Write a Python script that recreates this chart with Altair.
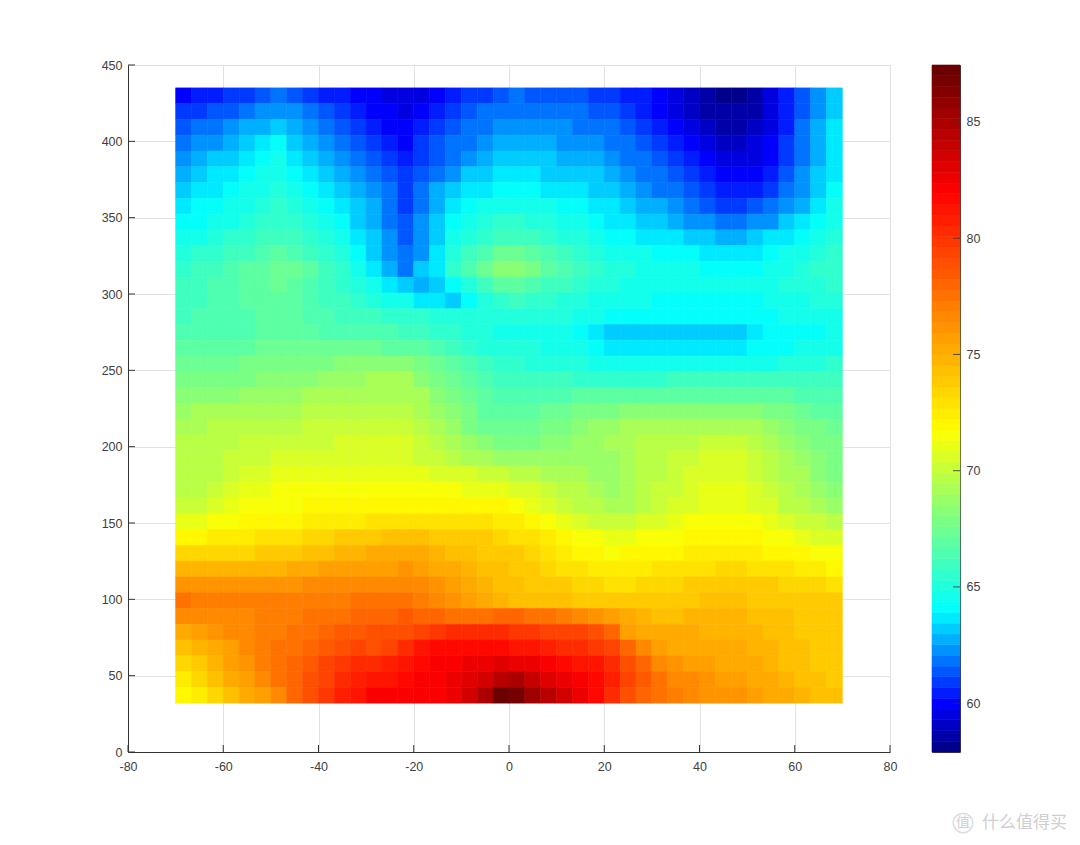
import altair as alt
import numpy as np
import pandas as pd

x_step = 140.0 / 42
x_left = -70.0
y_top = 435.0
y_step = 403.0 / 39

z_rows = [
    [60.2,60.3,60.5,60.7,60.9,61.2,61.6,61.2,60.9,60.6,60.3,60,59.8,59.6,59.5,59.7,60,60.3,60.7,61.1,61.5,61.6,61.5,61.4,61.3,61.2,61.1,60.9,60.6,60.3,59.9,59.5,59.1,58.7,58.3,58.3,58.6,59.5,60.3,61.2,62.3,63.4],
    [60.7,60.9,61.2,61.5,61.8,62.1,62.5,62.1,61.6,61.2,60.8,60.5,60.2,59.9,59.7,60,60.4,60.8,61.2,61.6,61.9,62,61.9,61.8,61.7,61.6,61.4,61.2,60.9,60.5,60.1,59.7,59.2,58.8,58.4,58.4,58.7,59.5,60.4,61.5,62.5,63.4],
    [61.3,61.6,61.9,62.2,62.6,62.9,63.3,62.8,62.2,61.7,61.3,60.9,60.6,60.2,60,60.4,60.8,61.2,61.6,62,62.3,62.4,62.3,62.2,62.1,62,61.8,61.6,61.2,60.8,60.4,60,59.6,59.1,58.7,58.7,59,59.7,60.6,61.7,62.6,63.5],
    [61.9,62.2,62.5,62.9,63.2,63.6,64,63.4,62.8,62.2,61.7,61.2,60.9,60.5,60.2,60.7,61.2,61.6,62,62.4,62.8,62.8,62.7,62.6,62.5,62.3,62.2,62,61.6,61.2,60.8,60.4,60,59.5,59,59,59.3,59.9,60.8,61.8,62.7,63.6],
    [62.4,62.7,63,63.4,63.7,64.1,64.4,63.9,63.3,62.7,62.2,61.7,61.2,60.8,60.6,61,61.5,62,62.5,62.9,63.3,63.3,63.2,63,62.9,62.8,62.6,62.4,62,61.6,61.2,60.8,60.3,59.9,59.4,59.4,59.7,60.2,61,62,62.9,63.7],
    [62.9,63.2,63.5,63.8,64.1,64.4,64.7,64.3,63.8,63.2,62.7,62.2,61.7,61.2,60.8,61.3,61.9,62.5,63,63.4,63.7,63.7,63.6,63.4,63.3,63.1,63,62.8,62.4,62,61.6,61.2,60.7,60.3,59.8,59.8,60.1,60.6,61.3,62.2,63.1,63.8],
    [63.3,63.6,63.9,64.2,64.4,64.7,65,64.7,64.3,63.7,63.2,62.7,62.2,61.6,61,61.7,62.6,63.3,63.7,63.9,64.1,64.1,64,63.8,63.7,63.5,63.3,63.1,62.8,62.4,62,61.6,61.2,60.8,60.3,60.3,60.6,61,61.7,62.4,63.2,64],
    [63.7,64,64.2,64.5,64.7,65,65.3,65.1,64.7,64.2,63.7,63.1,62.6,61.8,61.1,61.9,62.8,63.8,64.2,64.5,64.8,64.8,64.6,64.4,64.2,64,63.8,63.5,63.2,62.9,62.6,62.2,61.9,61.5,61,61,61.3,61.7,62.2,62.9,63.6,64.4],
    [64.1,64.3,64.6,64.8,65.1,65.4,65.7,65.5,65.1,64.5,64,63.4,62.8,62,61.3,62.2,63.4,64.2,64.7,65,65.3,65.3,65.1,64.9,64.7,64.4,64.2,63.9,63.7,63.4,63.1,62.8,62.5,62.2,61.9,61.9,62.2,62.5,63,63.5,64.1,64.8],
    [64.6,64.8,65.1,65.4,65.6,65.9,66.2,66,65.6,65,64.4,63.7,63,62.3,61.5,62.3,63.4,64.4,65.1,65.7,66.2,66.2,65.9,65.6,65.2,64.9,64.5,64.2,64.1,63.9,63.7,63.5,63.3,63.1,62.9,62.9,63.2,63.5,63.8,64.2,64.6,65.1],
    [65,65.3,65.6,65.9,66.2,66.5,66.8,66.6,66.2,65.6,65,64.3,63.4,62.5,61.7,62.4,63.6,64.9,65.8,66.6,67.3,67.3,66.8,66.3,65.8,65.3,65,64.6,64.5,64.4,64.2,64.1,64,63.8,63.7,63.7,63.9,64.2,64.5,64.8,65.1,65.4],
    [65.5,65.8,66.1,66.4,66.7,67,67.3,67.2,66.7,66.1,65.5,64.6,63.8,62.8,61.9,63,63.9,65.3,66.4,67.5,68.4,68.4,67.7,67,66.4,65.8,65.4,65,64.9,64.8,64.6,64.5,64.4,64.2,64.1,64.1,64.3,64.6,64.8,65.1,65.3,65.6],
    [65.8,66,66.3,66.5,66.8,67,67.2,67,66.6,66.2,65.7,65.2,64.6,63.8,63,62.7,63,64,65,66,66.9,66.9,66.6,66.2,65.9,65.6,65.2,64.9,64.8,64.7,64.6,64.5,64.5,64.4,64.4,64.4,64.5,64.7,64.9,65,65.1,65.3],
    [66,66.2,66.3,66.5,66.7,66.9,67,66.8,66.5,66.2,65.8,65.5,65.2,64.8,64.4,63.9,63.5,63.4,64.3,65.2,65.7,65.8,65.6,65.4,65.2,65,64.8,64.6,64.5,64.4,64.3,64.2,64.2,64.1,64,64.1,64.2,64.4,64.6,64.8,64.9,65],
    [66.2,66.3,66.4,66.5,66.6,66.8,66.9,66.8,66.6,66.4,66.2,66,65.8,65.6,65.5,65.3,65.1,65,65,65.1,65.2,65.2,65.1,65,64.9,64.7,64.5,64.3,64.2,64.1,64.1,64.1,64,64,64,64,64.1,64.2,64.4,64.6,64.7,64.8],
    [66.5,66.5,66.6,66.6,66.6,66.7,66.7,66.7,66.7,66.6,66.5,66.5,66.4,66.3,66.2,66,65.7,65.4,65.2,65,64.8,64.8,64.6,64.5,64.4,64.2,63.8,63.4,63.3,63.3,63.3,63.3,63.3,63.3,63.3,63.3,63.7,64,64.1,64.2,64.3,64.4],
    [67,67,67,67.1,67.1,67.2,67.2,67.2,67.2,67.2,67.2,67.2,67.2,67.1,67,66.7,66.3,65.9,65.6,65.2,65,65,64.9,64.8,64.6,64.5,64.2,63.9,63.9,63.9,63.9,63.9,63.9,63.9,63.9,63.9,64,64.2,64.3,64.4,64.5,64.6],
    [67.4,67.4,67.5,67.5,67.6,67.6,67.7,67.8,67.9,68,68.1,68.2,68.2,68.3,68.2,67.8,67.3,66.8,66.3,65.8,65.4,65.4,65.2,65.1,65,64.9,64.8,64.7,64.7,64.6,64.6,64.6,64.6,64.6,64.6,64.6,64.7,64.8,65,65.1,65.2,65.4],
    [67.9,67.9,68,68,68,68.1,68.1,68.3,68.5,68.6,68.8,68.9,69,69,69,68.5,67.9,67.3,66.8,66.3,65.9,65.9,65.9,65.8,65.8,65.7,65.7,65.7,65.7,65.7,65.7,65.8,65.8,65.8,65.8,65.8,65.8,65.9,65.9,65.9,66,66],
    [68.4,68.4,68.5,68.5,68.6,68.6,68.7,68.8,69,69.1,69.2,69.3,69.4,69.4,69.4,69,68.4,67.8,67.2,66.7,66.3,66.3,66.4,66.5,66.6,66.7,66.8,67,67,67,67,67,67,67,67,67,66.9,66.8,66.7,66.6,66.5,66.4],
    [68.9,69,69,69.1,69.1,69.2,69.3,69.4,69.5,69.6,69.7,69.8,69.9,69.9,69.9,69.4,68.8,68.2,67.6,67.1,66.8,66.8,67,67.2,67.4,67.6,67.8,68,68.1,68.2,68.3,68.4,68.5,68.5,68.5,68.5,68.3,68,67.7,67.4,67.1,66.8],
    [69.4,69.4,69.5,69.6,69.7,69.7,69.8,69.9,70,70.1,70.1,70.2,70.2,70.3,70.2,69.8,69.2,68.6,68,67.5,67.3,67.3,67.5,67.7,68,68.3,68.6,68.8,69,69.1,69.2,69.3,69.4,69.4,69.4,69.4,69.2,68.8,68.4,68,67.6,67.2],
    [69.7,69.7,69.8,69.9,70,70.1,70.2,70.2,70.3,70.3,70.4,70.4,70.4,70.4,70.4,70,69.6,69.2,68.8,68.3,68,68,68,68.1,68.3,68.6,68.8,69,69.4,69.6,69.7,69.8,69.9,70,70,70.1,69.8,69.4,68.9,68.5,68,67.6],
    [69.8,69.8,69.9,70,70.2,70.3,70.5,70.5,70.5,70.6,70.6,70.6,70.6,70.6,70.6,70.3,70,69.7,69.4,69.1,68.8,68.7,68.6,68.6,68.6,68.7,68.8,68.9,69.3,69.6,69.9,70.1,70.3,70.4,70.4,70.4,70.1,69.7,69.2,68.8,68.4,67.9],
    [69.8,69.8,69.9,70.2,70.5,70.7,70.9,70.9,70.9,71,71,71,71,71,71,70.9,70.7,70.5,70.4,70.2,70,69.8,69.6,69.4,69.2,69,68.9,68.8,69.1,69.5,69.9,70.1,70.4,70.6,70.6,70.6,70.3,69.8,69.4,69,68.5,68],
    [69.9,69.9,70.1,70.6,71,71.2,71.3,71.3,71.4,71.4,71.4,71.4,71.4,71.4,71.4,71.4,71.3,71.3,71.2,71.1,71,70.7,70.4,70.1,69.8,69.5,69.2,68.9,69.2,69.6,70,70.3,70.6,70.9,70.9,71,70.6,70.2,69.7,69.3,68.8,68.4],
    [70,70.2,70.5,71,71.3,71.5,71.7,71.7,71.8,71.8,71.9,71.9,72,72,72,72,72,72,72,72,71.9,71.6,71.2,70.8,70.3,69.9,69.5,69.1,69.4,69.8,70.2,70.5,70.8,71.1,71.1,71.2,70.8,70.4,69.9,69.5,69.1,68.8],
    [70.9,71.1,71.3,71.6,71.8,72,72.1,72.2,72.3,72.4,72.5,72.6,72.7,72.8,72.9,72.9,72.9,72.8,72.8,72.7,72.6,72.3,71.9,71.5,71.1,70.7,70.3,70,70.2,70.5,70.8,71,71.3,71.6,71.6,71.7,71.3,71,70.6,70.3,70,69.6],
    [72,72.1,72.3,72.4,72.6,72.7,72.9,73.1,73.3,73.5,73.7,73.9,74,74.1,74.2,74.1,74,73.9,73.7,73.6,73.4,73.1,72.7,72.3,71.9,71.6,71.3,71,71.2,71.4,71.6,71.7,71.9,72,72,72.1,71.9,71.7,71.3,71,70.8,70.6],
    [73.2,73.2,73.3,73.4,73.5,73.6,73.7,74,74.2,74.5,74.7,74.9,75,75.1,75.2,75,74.8,74.5,74.3,74,73.8,73.6,73.2,72.9,72.5,72.2,71.9,71.7,71.8,72,72.1,72.2,72.3,72.4,72.5,72.6,72.4,72.2,72,71.8,71.6,71.4],
    [74.8,74.8,74.8,74.8,74.8,74.9,74.9,75.1,75.3,75.5,75.6,75.7,75.8,75.9,76,75.7,75.4,75,74.7,74.4,74.1,73.9,73.6,73.3,73,72.7,72.5,72.3,72.5,72.6,72.8,72.9,73,73.1,73.2,73.2,73.1,72.9,72.7,72.5,72.3,72.1],
    [76.3,76.3,76.2,76.2,76.2,76.2,76.2,76.3,76.4,76.5,76.6,76.7,76.7,76.8,76.8,76.4,76,75.6,75.2,74.8,74.4,74.2,74,73.8,73.6,73.4,73.2,73,73.1,73.2,73.3,73.4,73.6,73.7,73.7,73.8,73.7,73.6,73.4,73.3,73.2,73],
    [77.3,77.2,77.1,77.1,77,77,77,77,77.1,77.2,77.2,77.3,77.4,77.5,77.6,77.1,76.6,76.1,75.6,75.1,74.7,74.5,74.3,74.2,74.1,74,73.8,73.7,73.8,73.8,73.9,74,74,74.1,74.1,74.1,74,73.9,73.8,73.7,73.6,73.6],
    [76.4,76.5,76.6,76.7,76.8,77,77.1,77.2,77.3,77.5,77.7,77.8,78,78.2,78.4,78.2,77.9,77.6,77.5,77.6,78,77.8,77.6,77.3,77,76.7,76.2,75.6,75,74.6,74.5,74.5,74.6,74.6,74.7,74.7,74.5,74.4,74.2,74,73.9,73.7],
    [75.2,75.6,76,76.4,76.7,77,77.2,77.4,77.7,78,78.3,78.6,78.8,78.9,79,79.5,80,80.4,80.5,80.5,80.3,80,79.8,79.6,79.4,79.2,78.8,78,75.8,75.2,75,75,75,74.9,74.9,74.9,74.7,74.5,74.3,74,73.9,73.7],
    [74.2,74.7,75.3,75.9,76.4,76.9,77.4,77.6,78,78.5,79,79.4,79,79.6,80.3,81,81.6,81.8,81.9,81.9,81.8,81.4,81,80.8,80.5,80.3,80,79.2,78,76.7,75.8,75.4,75.2,75.2,75.1,75.1,74.9,74.6,74.4,74.1,73.9,73.7],
    [73.2,74,74.8,75.5,76.2,76.9,77.6,78,78.6,79.2,79.8,80.2,80.5,80.8,81.1,81.6,82,82.2,82.5,82.8,83,82.8,82.5,82,81.6,81.3,81,80.5,79,77.8,76.8,76.2,75.8,75.5,75.4,75.4,75.1,74.8,74.5,74.3,74,73.8],
    [72.4,73.2,74.1,75,75.8,76.6,77.4,78.2,79,79.6,80.2,80.7,81,81.3,81.7,82,82.2,82.5,82.9,83.5,84.5,85,84,83.2,82.7,82.3,81.8,80.8,79.6,78.5,77.5,76.8,76.4,76.1,75.9,75.7,75.4,75.1,74.8,74.5,74.2,74],
    [71.8,72.6,73.4,74.2,75,75.8,76.7,77.8,79,80,80.7,81.3,82,82,82.1,82.2,82.3,82.5,83.3,85,87.2,86.6,85.5,84.3,83.6,82.7,81.5,80.5,79,78.2,77.5,77,76.6,76.3,76.1,76,75.7,75.3,75,74.7,74.4,74.1],
]

x_ticks = [-80, -60, -40, -20, 0, 20, 40, 60, 80]
y_ticks = [0, 50, 100, 150, 200, 250, 300, 350, 400, 450]
bar_ticks = [60, 65, 70, 75, 80, 85]
z_min, z_max = 57.9, 87.45

# colormap stops
stop_values = [57.9, 60, 62, 64, 68, 71.7, 77, 82, 87.45]
stop_r = [0, 0, 0, 0, 128, 255, 255, 255, 100]
stop_g = [0, 0, 128, 255, 255, 255, 128, 0, 0]
stop_b = [128, 255, 255, 255, 128, 0, 0, 0, 0]

levels = np.linspace(z_min, z_max, 65)
mids = (levels[:-1] + levels[1:]) / 2
colors = [
    "#%02x%02x%02x" % (
        int(np.interp(v, stop_values, stop_r)),
        int(np.interp(v, stop_values, stop_g)),
        int(np.interp(v, stop_values, stop_b)),
    )
    for v in mids
]

rows = []
for i, row in enumerate(z_rows):
    for j, z in enumerate(row):
        rows.append({
            "x": x_left + j * x_step, "x2": x_left + (j + 1) * x_step,
            "y": y_top - i * y_step, "y2": y_top - (i + 1) * y_step,
            "z": z,
        })
df = pd.DataFrame(rows)

color_scale = alt.Scale(type="quantize", domain=[z_min, z_max], range=colors)
text_color = "#404040"
grid_color = "#e2e2e2"
plain_label = "'' + datum.value"

x_scale = alt.Scale(domain=[-80, 80], nice=False)
y_scale = alt.Scale(domain=[0, 450], nice=False)

cells = (
    alt.Chart(df)
    .mark_rect(strokeWidth=0.6)
    .encode(
        x=alt.X("x:Q", scale=x_scale, title=None, axis=alt.Axis(
            values=x_ticks, ticks=False, labelPadding=8, labelFontSize=12.5,
            labelFont="Liberation Sans", labelColor=text_color, labelFlush=False,
            labelExpr=plain_label,
            gridColor=grid_color, domainColor="#333333", labelOverlap=False)),
        x2="x2:Q",
        y=alt.Y("y:Q", scale=y_scale, title=None, axis=alt.Axis(
            values=y_ticks, ticks=False, labelPadding=6, labelFontSize=12.5,
            labelFont="Liberation Sans", labelColor=text_color,
            gridColor=grid_color, domainColor="#333333", labelOverlap=False)),
        y2="y2:Q",
        color=alt.Color("z:Q", scale=color_scale, legend=None),
        stroke=alt.Color("z:Q", scale=color_scale, legend=None),
    )
)

# inward ticks, as the axis only draws them outward
x_tick_marks = (
    alt.Chart(pd.DataFrame({"x": x_ticks}))
    .mark_rule(color="#333333")
    .encode(x=alt.X("x:Q", scale=x_scale), y=alt.value(687), y2=alt.value(680))
)
y_tick_marks = (
    alt.Chart(pd.DataFrame({"y": y_ticks}))
    .mark_rule(color="#333333")
    .encode(y=alt.Y("y:Q", scale=y_scale), x=alt.value(0), x2=alt.value(7))
)

main = alt.layer(cells, x_tick_marks, y_tick_marks).properties(
    width=762, height=687, view=alt.ViewConfig(stroke="#c4c4c4")
)

bar_df = pd.DataFrame({"lo": levels[:-1], "hi": levels[1:], "z": mids})
bar_scale = alt.Scale(domain=[z_min, z_max], nice=False)
bar = (
    alt.Chart(bar_df)
    .mark_rect(strokeWidth=0.6)
    .encode(
        x=alt.value(0),
        x2=alt.value(28),
        y=alt.Y("lo:Q", scale=bar_scale, title=None, axis=alt.Axis(
            orient="right", values=bar_ticks, ticks=False, grid=False, domain=False,
            labelPadding=6, labelFontSize=12.5, labelFont="Liberation Sans",
            labelColor=text_color)),
        y2="hi:Q",
        color=alt.Color("z:Q", scale=color_scale, legend=None),
        stroke=alt.Color("z:Q", scale=color_scale, legend=None),
    )
)
bar_tick_marks = (
    alt.Chart(pd.DataFrame({"v": bar_ticks}))
    .mark_rule(color="#333333", opacity=0.8)
    .encode(y=alt.Y("v:Q", scale=bar_scale), x=alt.value(21), x2=alt.value(28))
)
mark_text = (
    alt.Chart(pd.DataFrame({"t": ["什么值得买"]}))
    .mark_text(font="Noto Sans CJK SC", fontSize=17, align="left", baseline="middle", color="#cfcfcf")
    .encode(text="t:N", x=alt.value(50), y=alt.value(758))
)
mark_icon = (
    alt.Chart(pd.DataFrame({"t": ["值"]}))
    .mark_text(font="Noto Sans CJK SC", fontSize=14, baseline="middle", color="#cfcfcf")
    .encode(text="t:N", x=alt.value(31), y=alt.value(758))
)
mark_ring = (
    alt.Chart(pd.DataFrame({"t": ["值"]}))
    .mark_point(shape="circle", size=380, color="#cfcfcf", strokeWidth=1.5)
    .encode(x=alt.value(31), y=alt.value(758))
)

colorbar = alt.layer(bar, bar_tick_marks, mark_ring, mark_icon, mark_text).properties(
    width=28, height=687, view=alt.ViewConfig(stroke="#404040")
)

chart = (
    alt.hconcat(main, colorbar, spacing=42, bounds="flush")
    .properties(padding={"left": 92, "top": 50, "right": 0, "bottom": 0})
    .configure_view(strokeWidth=1)
)

chart.save("out.html", embed_options={"renderer": "svg", "actions": False})
